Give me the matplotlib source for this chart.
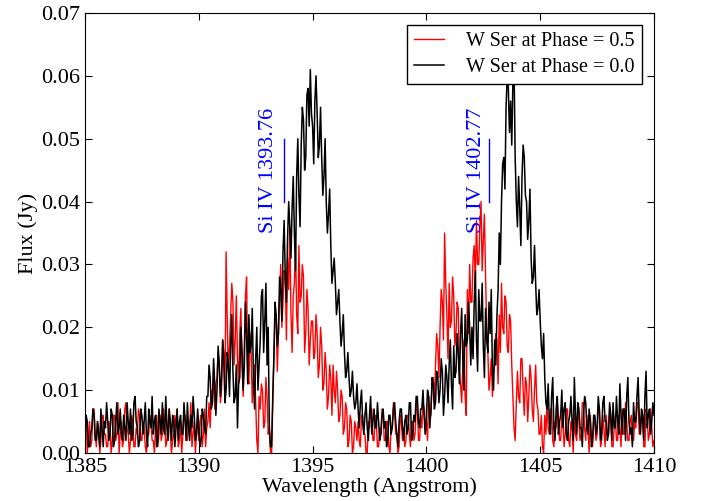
import numpy as np
import matplotlib
matplotlib.use("Agg")
import matplotlib.pyplot as plt

plt.rcParams['font.family'] = 'serif'
plt.rcParams['font.serif'] = ['Liberation Serif', 'DejaVu Serif']

# wavelength grid (Angstrom), 0.05 A sampling
wave_start = 1385.0
wave_step = 0.05

# flux in mJy, phase 0.5 (red), one row per Angstrom
flux_phase05 = [
    3, 6, 0, 2, 5, 1, 2, 7, 7, 3, 1, 5, 4, 0, 2, 6, 6, 3, 3, 1,
    1, 5, 4, 0, 2, 6, 6, 2, 3, 8, 0, 3, 5, 1, 2, 7, 8, 4, 3, 0,
    2, 6, 5, 1, 1, 4, 3, 7, 6, 2, 2, 5, 4, 1, 0, 3, 3, 6, 5, 2,
    2, 0, 4, 6, 1, 3, 6, 2, 3, 7, 5, 1, 2, 5, 7, 3, 0, 2, 3, 6,
    4, 7, 1, 2, 5, 0, 3, 6, 6, 2, 2, 5, 4, 8, 1, 3, 5, 0, 3, 6,
    2, 5, 6, 1, 3, 7, 1, 4, 5, 8, 4, 10, 9, 13, 7, 11, 12, 16, 14, 8,
    10, 18, 16, 9, 32, 21, 13, 17, 22, 27, 24, 14, 18, 25, 15, 11, 19, 23, 14, 9,
    17, 25, 28, 12, 11, 19, 16, 8, 12, 14, 8, 2, 0, 9, 7, 11, 10, 4, 5, 12,
    9, 3, 4, 0, 0, 8, 16, 22, 22, 13, 19, 25, 30, 20, 24, 29, 28, 18, 31, 26,
    36, 22, 16, 25, 27, 33, 22, 19, 33, 24, 25, 30, 28, 16, 19, 26, 23, 14, 18, 21,
    21, 15, 16, 22, 19, 12, 14, 20, 17, 10, 11, 16, 13, 7, 9, 14, 12, 6, 14, 10,
    8, 13, 10, 5, 6, 10, 9, 3, 4, 8, 7, 1, 2, 6, 5, 0, 1, 5, 4, 2,
    5, 2, 1, 6, 6, 3, 3, 0, 0, 5, 4, 7, 7, 2, 2, 6, 5, 1, 1, 4,
    3, 7, 6, 2, 2, 5, 5, 1, 0, 4, 4, 8, 7, 3, 3, 0, 1, 6, 5, 2,
    4, 1, 2, 6, 6, 3, 1, 5, 5, 2, 3, 7, 8, 2, 2, 6, 4, 8, 7, 3,
    5, 2, 9, 6, 6, 11, 12, 8, 14, 19, 17, 12, 20, 26, 24, 18, 35, 27, 22, 15,
    27, 20, 21, 28, 25, 17, 19, 24, 23, 13, 11, 8, 14, 18, 9, 6, 26, 19, 30, 24,
    24, 31, 33, 27, 37, 30, 30, 36, 40, 29, 34, 38, 28, 20, 16, 10, 12, 15, 9, 13,
    14, 19, 18, 11, 22, 16, 27, 20, 19, 25, 24, 17, 16, 22, 21, 14, 9, 4, 2, 8,
    13, 9, 8, 15, 15, 10, 6, 12, 11, 5, 9, 14, 12, 7, 5, 10, 14, 8, 7, 3,
    3, 6, 1, 0, 6, 3, 8, 4, 3, 7, 7, 2, 1, 5, 4, 8, 6, 2, 2, 6,
    5, 1, 3, 7, 7, 2, 1, 5, 4, 0, 6, 3, 2, 7, 5, 2, 3, 8, 8, 4,
    2, 6, 4, 0, 6, 3, 1, 5, 5, 2, 3, 7, 7, 1, 2, 6, 4, 1, 6, 3,
    3, 7, 5, 1, 1, 4, 6, 2, 2, 6, 4, 1, 7, 3, 3, 8, 5, 2, 2, 5,
    6, 2, 2, 5, 4, 8, 8, 3, 3, 6, 5, 1, 1, 7, 6, 2, 3, 7, 4, 1,
    2,
]

# flux in mJy, phase 0.0 (black), one row per Angstrom
flux_phase00 = [
    2, 6, 5, 1, 1, 3, 4, 7, 6, 2, 2, 5, 3, 1, 7, 4, 1, 5, 4, 8,
    5, 2, 3, 7, 6, 1, 2, 5, 8, 3, 4, 7, 3, 2, 6, 4, 2, 8, 5, 3,
    7, 2, 3, 8, 9, 5, 4, 1, 2, 7, 6, 3, 5, 8, 3, 1, 7, 5, 4, 9,
    3, 5, 6, 1, 2, 7, 5, 3, 8, 4, 3, 9, 4, 2, 7, 5, 2, 6, 5, 1,
    4, 7, 2, 5, 6, 3, 3, 8, 5, 2, 8, 4, 2, 6, 4, 9, 6, 2, 3, 7,
    4, 1, 2, 7, 6, 4, 3, 9, 9, 14, 12, 7, 8, 15, 11, 6, 10, 17, 14, 9,
    12, 18, 15, 8, 10, 16, 14, 9, 17, 22, 13, 8, 9, 14, 4, 11, 12, 20, 16, 10,
    14, 24, 19, 11, 22, 16, 17, 23, 12, 7, 15, 20, 10, 14, 18, 25, 26, 16, 21, 27,
    14, 20, 4, 1, 1, 9, 15, 24, 22, 17, 19, 28, 26, 21, 32, 37, 28, 24, 34, 40,
    36, 31, 39, 44, 35, 29, 44, 50, 41, 36, 49, 55, 53, 45, 47, 57, 58, 52, 61, 54,
    52, 46, 56, 60, 54, 47, 49, 55, 47, 41, 44, 50, 40, 35, 38, 42, 33, 27, 29, 31,
    27, 22, 24, 26, 21, 17, 19, 22, 16, 12, 13, 16, 12, 9, 10, 13, 9, 7, 8, 11,
    7, 4, 8, 10, 5, 3, 6, 8, 4, 2, 6, 9, 3, 5, 7, 4, 4, 8, 5, 2,
    3, 6, 7, 4, 5, 1, 2, 6, 6, 3, 4, 7, 8, 5, 3, 1, 5, 7, 7, 4,
    2, 5, 6, 3, 4, 8, 8, 2, 3, 6, 5, 9, 9, 5, 4, 7, 7, 10, 6, 3,
    6, 10, 9, 4, 7, 12, 11, 7, 8, 13, 12, 8, 10, 15, 13, 6, 9, 14, 12, 8,
    14, 18, 11, 7, 17, 12, 13, 19, 16, 11, 19, 23, 15, 10, 22, 17, 18, 24, 20, 14,
    20, 15, 24, 29, 18, 13, 26, 21, 21, 27, 17, 12, 23, 18, 16, 24, 19, 26, 13, 10,
    18, 14, 22, 26, 35, 30, 40, 46, 47, 42, 55, 60, 58, 51, 56, 49, 59, 62, 47, 40,
    36, 44, 39, 33, 44, 49, 47, 41, 40, 34, 37, 42, 31, 27, 28, 33, 27, 22, 23, 26,
    21, 17, 15, 19, 12, 8, 7, 11, 5, 3, 9, 12, 4, 2, 7, 9, 3, 5, 6, 10,
    4, 7, 8, 3, 2, 5, 6, 9, 5, 2, 12, 6, 3, 8, 7, 4, 4, 1, 6, 9,
    8, 4, 3, 7, 5, 1, 2, 6, 6, 3, 4, 9, 7, 2, 3, 8, 9, 5, 5, 2,
    3, 8, 6, 2, 8, 4, 4, 9, 5, 3, 11, 6, 3, 7, 7, 2, 9, 12, 5, 3,
    4, 1, 8, 5, 5, 9, 12, 6, 3, 7, 6, 2, 9, 13, 4, 6, 7, 3, 5, 8,
    6,
]
assert len(flux_phase05) == 501 and len(flux_phase00) == 501

line_names = ['Si IV 1393.76', 'Si IV 1402.77']
line_waves = [1393.76, 1402.77]
label_waves = [1393.08, 1402.22]

wave = wave_start + wave_step * np.arange(len(flux_phase00))
red = np.array(flux_phase05) / 1000.0
black = np.array(flux_phase00) / 1000.0

fig = plt.figure(figsize=(7.04, 5.01), dpi=100)
ax = fig.add_axes([0.1207, 0.0958, 0.8083, 0.8782])

ax.plot(wave, red, color='red', lw=1.0, label='W Ser at Phase = 0.5')
ax.plot(wave, black, color='black', lw=1.1, label='W Ser at Phase = 0.0')

for name, lw0, lx in zip(line_names, line_waves, label_waves):
    ax.plot([lw0, lw0], [0.040, 0.050], color='blue', lw=1.0)
    ax.text(lx, 0.035, name, rotation=90, color='blue', fontsize=16,
            ha='center', va='bottom')

ax.set_xlim(1385, 1410)
ax.set_ylim(0, 0.07)
ax.set_xticks(np.arange(1385, 1411, 5))
ax.set_yticks(np.arange(0, 0.0701, 0.01))
ax.set_yticklabels(['%.2f' % v for v in np.arange(0, 0.0701, 0.01)])
ax.tick_params(direction='in', top=True, right=True, labelsize=16, length=5)
ax.set_xlabel('Wavelength (Angstrom)', fontsize=16, labelpad=0)
ax.set_ylabel('Flux (Jy)', fontsize=16, labelpad=2)

leg = ax.legend(loc='upper right', fontsize=14.5, fancybox=False,
                framealpha=1, edgecolor='black', handlelength=1.5,
                handletextpad=1.1, borderpad=0.35, labelspacing=0.35,
                borderaxespad=0.6)
leg.get_frame().set_linewidth(1.0)

fig.savefig('out.png', dpi=100)
